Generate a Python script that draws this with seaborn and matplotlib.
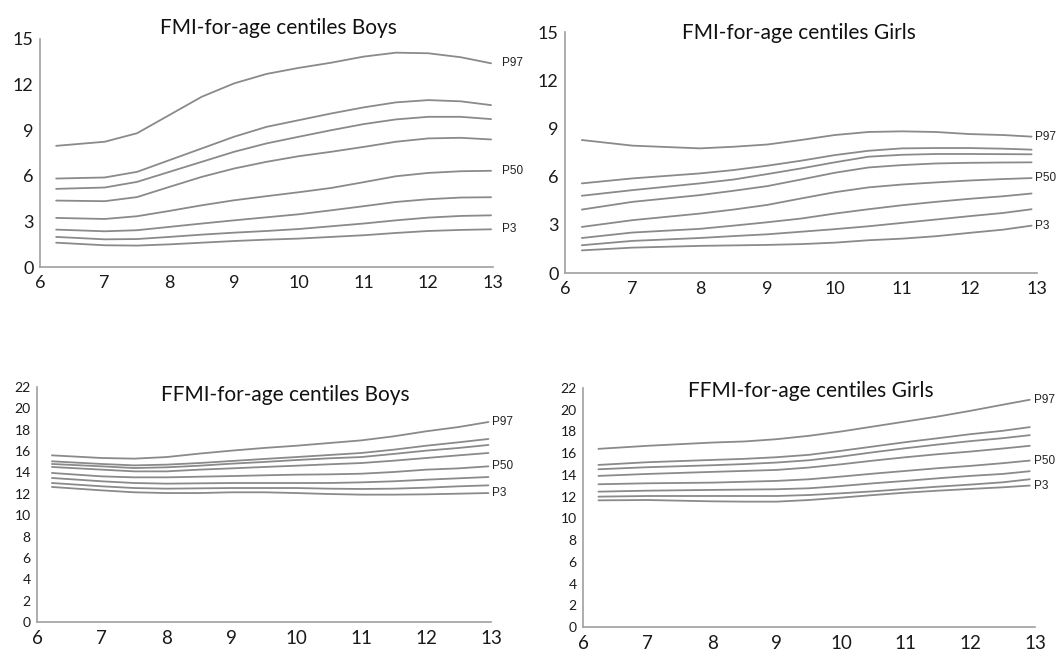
import numpy as np
import pandas as pd
import matplotlib
matplotlib.use("Agg")
import matplotlib.pyplot as plt
import seaborn as sns

sns.set_theme(style="white")
plt.rcParams['font.family'] = ['Lato', 'DejaVu Sans']

centiles = ["P97", "P90", "P85", "P75", "P50", "P25", "P10", "P3"]
labelled = ["P97", "P50", "P3"]

# Panel 1: FMI boys
ages_fmi_boys = [6.25, 7, 7.5, 8, 8.5, 9, 9.5, 10, 10.5, 11, 11.5, 12, 12.5, 12.97]
fmi_boys = {
    "P97": [7.97, 8.24, 8.8, 10.0, 11.2, 12.08, 12.7, 13.1, 13.44, 13.84, 14.1, 14.06, 13.8, 13.4],
    "P90": [5.82, 5.89, 6.26, 7.03, 7.8, 8.57, 9.22, 9.66, 10.1, 10.5, 10.83, 10.98, 10.9, 10.65],
    "P85": [5.14, 5.23, 5.6, 6.26, 6.92, 7.58, 8.13, 8.57, 9.0, 9.4, 9.71, 9.88, 9.88, 9.73],
    "P75": [4.37, 4.33, 4.6, 5.27, 5.93, 6.48, 6.92, 7.29, 7.58, 7.9, 8.24, 8.46, 8.5, 8.39],
    "P50": [3.23, 3.16, 3.34, 3.69, 4.06, 4.39, 4.66, 4.92, 5.2, 5.58, 5.97, 6.19, 6.3, 6.33],
    "P25": [2.46, 2.35, 2.42, 2.64, 2.86, 3.07, 3.27, 3.47, 3.73, 4.0, 4.28, 4.46, 4.57, 4.59],
    "P10": [1.98, 1.82, 1.84, 1.98, 2.13, 2.26, 2.37, 2.5, 2.68, 2.86, 3.07, 3.25, 3.36, 3.4],
    "P3":  [1.6, 1.43, 1.41, 1.49, 1.6, 1.71, 1.8, 1.87, 1.98, 2.09, 2.24, 2.37, 2.44, 2.48],
}

# Panel 2: FMI girls
ages_fmi_girls = [6.25, 7, 8, 8.5, 9, 9.5, 10, 10.5, 11, 11.5, 12, 12.5, 12.92]
fmi_girls = {
    "P97": [8.28, 7.93, 7.76, 7.86, 8.0, 8.28, 8.59, 8.78, 8.82, 8.78, 8.65, 8.59, 8.49],
    "P90": [5.58, 5.89, 6.2, 6.41, 6.68, 6.99, 7.34, 7.61, 7.76, 7.78, 7.78, 7.74, 7.68],
    "P85": [4.81, 5.16, 5.58, 5.82, 6.16, 6.51, 6.89, 7.24, 7.36, 7.41, 7.41, 7.4, 7.39],
    "P75": [3.95, 4.43, 4.85, 5.12, 5.41, 5.82, 6.24, 6.57, 6.72, 6.82, 6.86, 6.88, 6.89],
    "P50": [2.87, 3.29, 3.7, 3.95, 4.24, 4.64, 5.03, 5.33, 5.51, 5.64, 5.76, 5.85, 5.91],
    "P25": [2.18, 2.52, 2.75, 2.95, 3.16, 3.39, 3.7, 3.97, 4.22, 4.43, 4.62, 4.78, 4.95],
    "P10": [1.73, 2.0, 2.18, 2.3, 2.41, 2.57, 2.73, 2.91, 3.12, 3.33, 3.54, 3.74, 3.97],
    "P3":  [1.41, 1.58, 1.69, 1.72, 1.75, 1.8, 1.89, 2.04, 2.14, 2.29, 2.5, 2.7, 2.95],
}

# Panel 3: FFMI boys
ages_ffmi_boys = [6.23, 7, 7.5, 8, 8.5, 9, 9.5, 10, 10.5, 11, 11.5, 12, 12.5, 12.96]
ffmi_boys = {
    "P97": [15.6, 15.35, 15.29, 15.44, 15.76, 16.04, 16.29, 16.5, 16.75, 17.0, 17.38, 17.85, 18.25, 18.72],
    "P90": [15.04, 14.79, 14.66, 14.73, 14.88, 15.07, 15.26, 15.44, 15.63, 15.82, 16.13, 16.5, 16.82, 17.13],
    "P85": [14.79, 14.57, 14.41, 14.48, 14.63, 14.82, 14.98, 15.16, 15.32, 15.44, 15.73, 16.04, 16.29, 16.57],
    "P75": [14.51, 14.26, 14.1, 14.1, 14.26, 14.38, 14.51, 14.63, 14.76, 14.88, 15.1, 15.35, 15.6, 15.82],
    "P50": [13.95, 13.63, 13.54, 13.54, 13.6, 13.66, 13.73, 13.79, 13.82, 13.88, 14.04, 14.26, 14.38, 14.57],
    "P25": [13.48, 13.17, 13.01, 12.95, 12.98, 13.01, 13.01, 13.01, 13.01, 13.07, 13.17, 13.32, 13.45, 13.57],
    "P10": [13.01, 12.7, 12.54, 12.48, 12.51, 12.54, 12.54, 12.54, 12.48, 12.45, 12.48, 12.57, 12.7, 12.79],
    "P3":  [12.64, 12.32, 12.14, 12.07, 12.07, 12.14, 12.14, 12.07, 11.98, 11.92, 11.92, 11.95, 12.01, 12.07],
}

# Panel 4: FFMI girls
ages_ffmi_girls = [6.24, 7, 8, 8.5, 9, 9.5, 10, 10.5, 11, 11.5, 12, 12.5, 12.92]
ffmi_girls = {
    "P97": [16.4, 16.68, 16.98, 17.08, 17.29, 17.6, 18.0, 18.46, 18.92, 19.38, 19.9, 20.46, 20.92],
    "P90": [14.92, 15.17, 15.38, 15.48, 15.63, 15.85, 16.22, 16.62, 17.02, 17.38, 17.75, 18.06, 18.4],
    "P85": [14.52, 14.71, 14.89, 15.0, 15.14, 15.35, 15.69, 16.09, 16.46, 16.8, 17.11, 17.38, 17.66],
    "P75": [13.91, 14.09, 14.28, 14.37, 14.46, 14.68, 14.98, 15.32, 15.63, 15.91, 16.15, 16.43, 16.68],
    "P50": [13.14, 13.23, 13.29, 13.37, 13.45, 13.6, 13.85, 14.12, 14.37, 14.62, 14.83, 15.08, 15.32],
    "P25": [12.46, 12.55, 12.62, 12.65, 12.68, 12.77, 12.98, 13.23, 13.45, 13.69, 13.91, 14.09, 14.34],
    "P10": [12.0, 12.06, 12.06, 12.06, 12.06, 12.15, 12.31, 12.49, 12.71, 12.92, 13.11, 13.32, 13.6],
    "P3":  [11.66, 11.69, 11.57, 11.54, 11.54, 11.69, 11.91, 12.15, 12.37, 12.55, 12.71, 12.86, 13.02],
}

titles = ["FMI-for-age centiles Boys", "FMI-for-age centiles Girls",
          "FFMI-for-age centiles Boys", "FFMI-for-age centiles Girls"]
x_ticks = [6, 7, 8, 9, 10, 11, 12, 13]
y_ticks_fmi = [0, 3, 6, 9, 12, 15]
y_ticks_ffmi = [0, 2, 4, 6, 8, 10, 12, 14, 16, 18, 20, 22]

W, H = 1063, 653
panels = [
    (ages_fmi_boys, fmi_boys, y_ticks_fmi, [0.0376, 0.5911, 0.4262, 0.3492], 13.14, 13, 13, (278, 28)),
    (ages_fmi_girls, fmi_girls, y_ticks_fmi, [0.5315, 0.5819, 0.4440, 0.3690], 12.97, 13, 13, (799, 33)),
    (ages_ffmi_boys, ffmi_boys, y_ticks_ffmi, [0.0348, 0.0475, 0.4271, 0.3599], 13.02, 10, 13.5, (285, 395)),
    (ages_ffmi_girls, ffmi_girls, y_ticks_ffmi, [0.5484, 0.0398, 0.4252, 0.3660], 12.98, 10, 13.5, (811, 391)),
]

fig = plt.figure(figsize=(10.63, 6.53), dpi=100)
line_col = "#8a8a8a"
axis_col = "#a0a0a0"

for (ages, data, yticks, rect, lab_x, yfs, xfs, tpos), title in zip(panels, titles):
    ax = fig.add_axes(rect)
    rows = []
    for c in centiles:
        for a, v in zip(ages, data[c]):
            rows.append({"age": a, "value": v, "centile": c})
    df = pd.DataFrame(rows)
    sns.lineplot(data=df, x="age", y="value", units="centile", estimator=None,
                 color=line_col, linewidth=1.3, ax=ax, sort=True)
    for c in labelled:
        ax.text(lab_x, data[c][-1], c, ha="left", va="center", fontsize=8.5,
                family=["Liberation Sans", "DejaVu Sans"], color="#222222",
                clip_on=False)
    ax.set_xlim(6, 13)
    ax.set_ylim(0, yticks[-1])
    ax.set_xticks(x_ticks)
    ax.set_yticks(yticks)
    ax.set_xlabel("")
    ax.set_ylabel("")
    for s in ["top", "right"]:
        ax.spines[s].set_visible(False)
    for s in ["left", "bottom"]:
        ax.spines[s].set_color(axis_col)
        ax.spines[s].set_linewidth(1.2)
    ax.tick_params(axis="both", direction="inout", length=7, width=1.0,
                   color=axis_col, colors="#1a1a1a")
    ax.tick_params(axis="y", labelsize=yfs, pad=1)
    ax.tick_params(axis="x", labelsize=xfs, pad=2)
    fig.text(tpos[0] / W, 1 - tpos[1] / H, title, fontsize=15, color="#111111",
             ha="center", va="center")

fig.savefig("out.png", dpi=100, facecolor="white")
